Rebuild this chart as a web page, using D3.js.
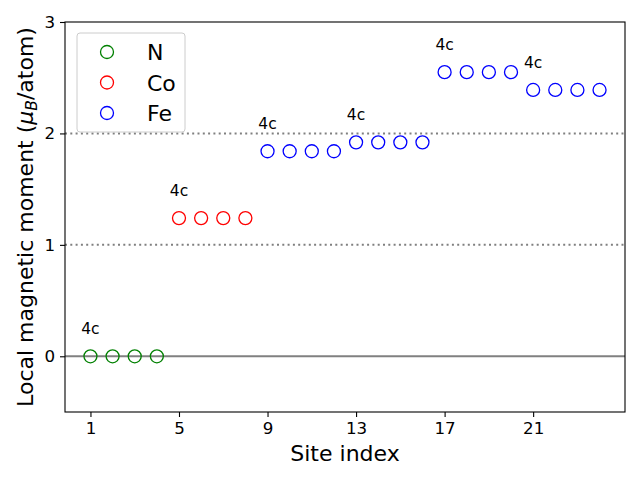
<!DOCTYPE html>
<html>
<head>
<meta charset="utf-8">
<script src="https://cdn.jsdelivr.net/npm/d3@7"></script>
<style>
  body { margin: 0; background: #fff; }
  text { font-family: "DejaVu Sans", sans-serif; }
</style>
</head>
<body>
<script>
// site data, one array per element
var nSites = [1, 2, 3, 4];
var nMoments = [0, 0, 0, 0];
var coSites = [5, 6, 7, 8];
var coMoments = [1.24, 1.24, 1.24, 1.24];
var feSites = [9, 10, 11, 12, 13, 14, 15, 16, 17, 18, 19, 20, 21, 22, 23, 24];
var feMoments = [1.84, 1.84, 1.84, 1.84, 1.92, 1.92, 1.92, 1.92,
                 2.55, 2.55, 2.55, 2.55, 2.39, 2.39, 2.39, 2.39];

// wyckoff labels above the first site of each group
var labelSites = [1, 5, 9, 13, 17, 21];
var labelMoments = [0, 1.24, 1.84, 1.92, 2.55, 2.39];
var labelText = ["4c", "4c", "4c", "4c", "4c", "4c"];

var xTicks = [1, 5, 9, 13, 17, 21];
var yTicks = [0, 1, 2, 3];
var dottedLevels = [1, 2];

var series = [
  {name: "N", color: "green", sites: nSites, vals: nMoments},
  {name: "Co", color: "red", sites: coSites, vals: coMoments},
  {name: "Fe", color: "blue", sites: feSites, vals: feMoments}
];

var margin = {top: 22, right: 15, bottom: 68, left: 65},
    width = 640 - margin.left - margin.right,
    height = 480 - margin.top - margin.bottom;

var x = d3.scaleLinear().domain([-0.15, 25.15]).range([0, width]);
var y = d3.scaleLinear().domain([-0.5, 3]).range([height, 0]);

var svg = d3.select("body").append("svg")
    .attr("width", 640)
    .attr("height", 480)
  .append("g")
    .attr("transform", "translate(" + margin.left + "," + margin.top + ")");

// reference lines
svg.append("line")
    .attr("x1", 0).attr("x2", width)
    .attr("y1", y(0)).attr("y2", y(0))
    .attr("stroke", "grey").attr("stroke-width", 2);

svg.selectAll(".dot-line")
    .data(dottedLevels)
  .enter().append("line")
    .attr("class", "dot-line")
    .attr("x1", 0).attr("x2", width)
    .attr("y1", function(d) { return y(d); })
    .attr("y2", function(d) { return y(d); })
    .attr("stroke", "grey")
    .attr("stroke-width", 2)
    .attr("stroke-dasharray", "2,3.3");

// markers
series.forEach(function(s) {
  svg.selectAll(".pt-" + s.name)
      .data(s.sites)
    .enter().append("circle")
      .attr("cx", function(d) { return x(d); })
      .attr("cy", function(d, i) { return y(s.vals[i]); })
      .attr("r", 6.5)
      .attr("fill", "none")
      .attr("stroke", s.color)
      .attr("stroke-width", 1.3);
});

// 4c annotations
svg.selectAll(".ann")
    .data(labelSites)
  .enter().append("text")
    .attr("x", function(d) { return x(d); })
    .attr("y", function(d, i) { return y(labelMoments[i] + 0.2); })
    .attr("text-anchor", "middle")
    .style("font-size", "15.5px")
    .text(function(d, i) { return labelText[i]; });

// axes
var xAxis = svg.append("g")
    .attr("transform", "translate(0," + height + ")")
    .call(d3.axisBottom(x).tickValues(xTicks).tickSize(5).tickPadding(5));
var yAxis = svg.append("g")
    .call(d3.axisLeft(y).tickValues(yTicks).tickFormat(d3.format("d"))
      .tickSize(5).tickPadding(5));
[xAxis, yAxis].forEach(function(a) {
  a.attr("font-size", 16.7).attr("font-family", "DejaVu Sans");
  a.select(".domain").remove();
  a.selectAll("text").style("font-size", "16.7px").attr("fill", "#000");
  a.selectAll("line").attr("stroke", "#000").attr("stroke-width", 1.1);
});

svg.append("rect")
    .attr("width", width).attr("height", height)
    .attr("fill", "none").attr("stroke", "#000").attr("stroke-width", 1.1);

// axis labels
svg.append("text")
    .attr("x", width / 2)
    .attr("y", height + 49)
    .attr("text-anchor", "middle")
    .style("font-size", "22px")
    .text("Site index");

var yl = svg.append("text")
    .attr("transform", "translate(-32," + (height / 2) + ") rotate(-90)")
    .attr("text-anchor", "middle")
    .style("font-size", "22px");
yl.append("tspan").text("Local magnetic moment (");
yl.append("tspan").style("font-style", "italic").text("μ");
yl.append("tspan").style("font-style", "italic").style("font-size", "15.5px")
    .attr("dy", 4).text("B");
yl.append("tspan").attr("dy", -4).text("/atom)");

// legend
var leg = svg.append("g").attr("transform", "translate(12,11)");
leg.append("rect")
    .attr("width", 108).attr("height", 99)
    .attr("rx", 3)
    .attr("fill", "#fff").attr("fill-opacity", 0.8)
    .attr("stroke", "#ccc").attr("stroke-width", 1);
var items = leg.selectAll(".item")
    .data(series)
  .enter().append("g")
    .attr("transform", function(d, i) { return "translate(0," + (19 + i * 30.5) + ")"; });
items.append("circle")
    .attr("cx", 30).attr("cy", 0).attr("r", 6.5)
    .attr("fill", "none")
    .attr("stroke", function(d) { return d.color; })
    .attr("stroke-width", 1.3);
items.append("text")
    .attr("x", 70).attr("y", 8)
    .style("font-size", "22px")
    .text(function(d) { return d.name; });
</script>
</body>
</html>
